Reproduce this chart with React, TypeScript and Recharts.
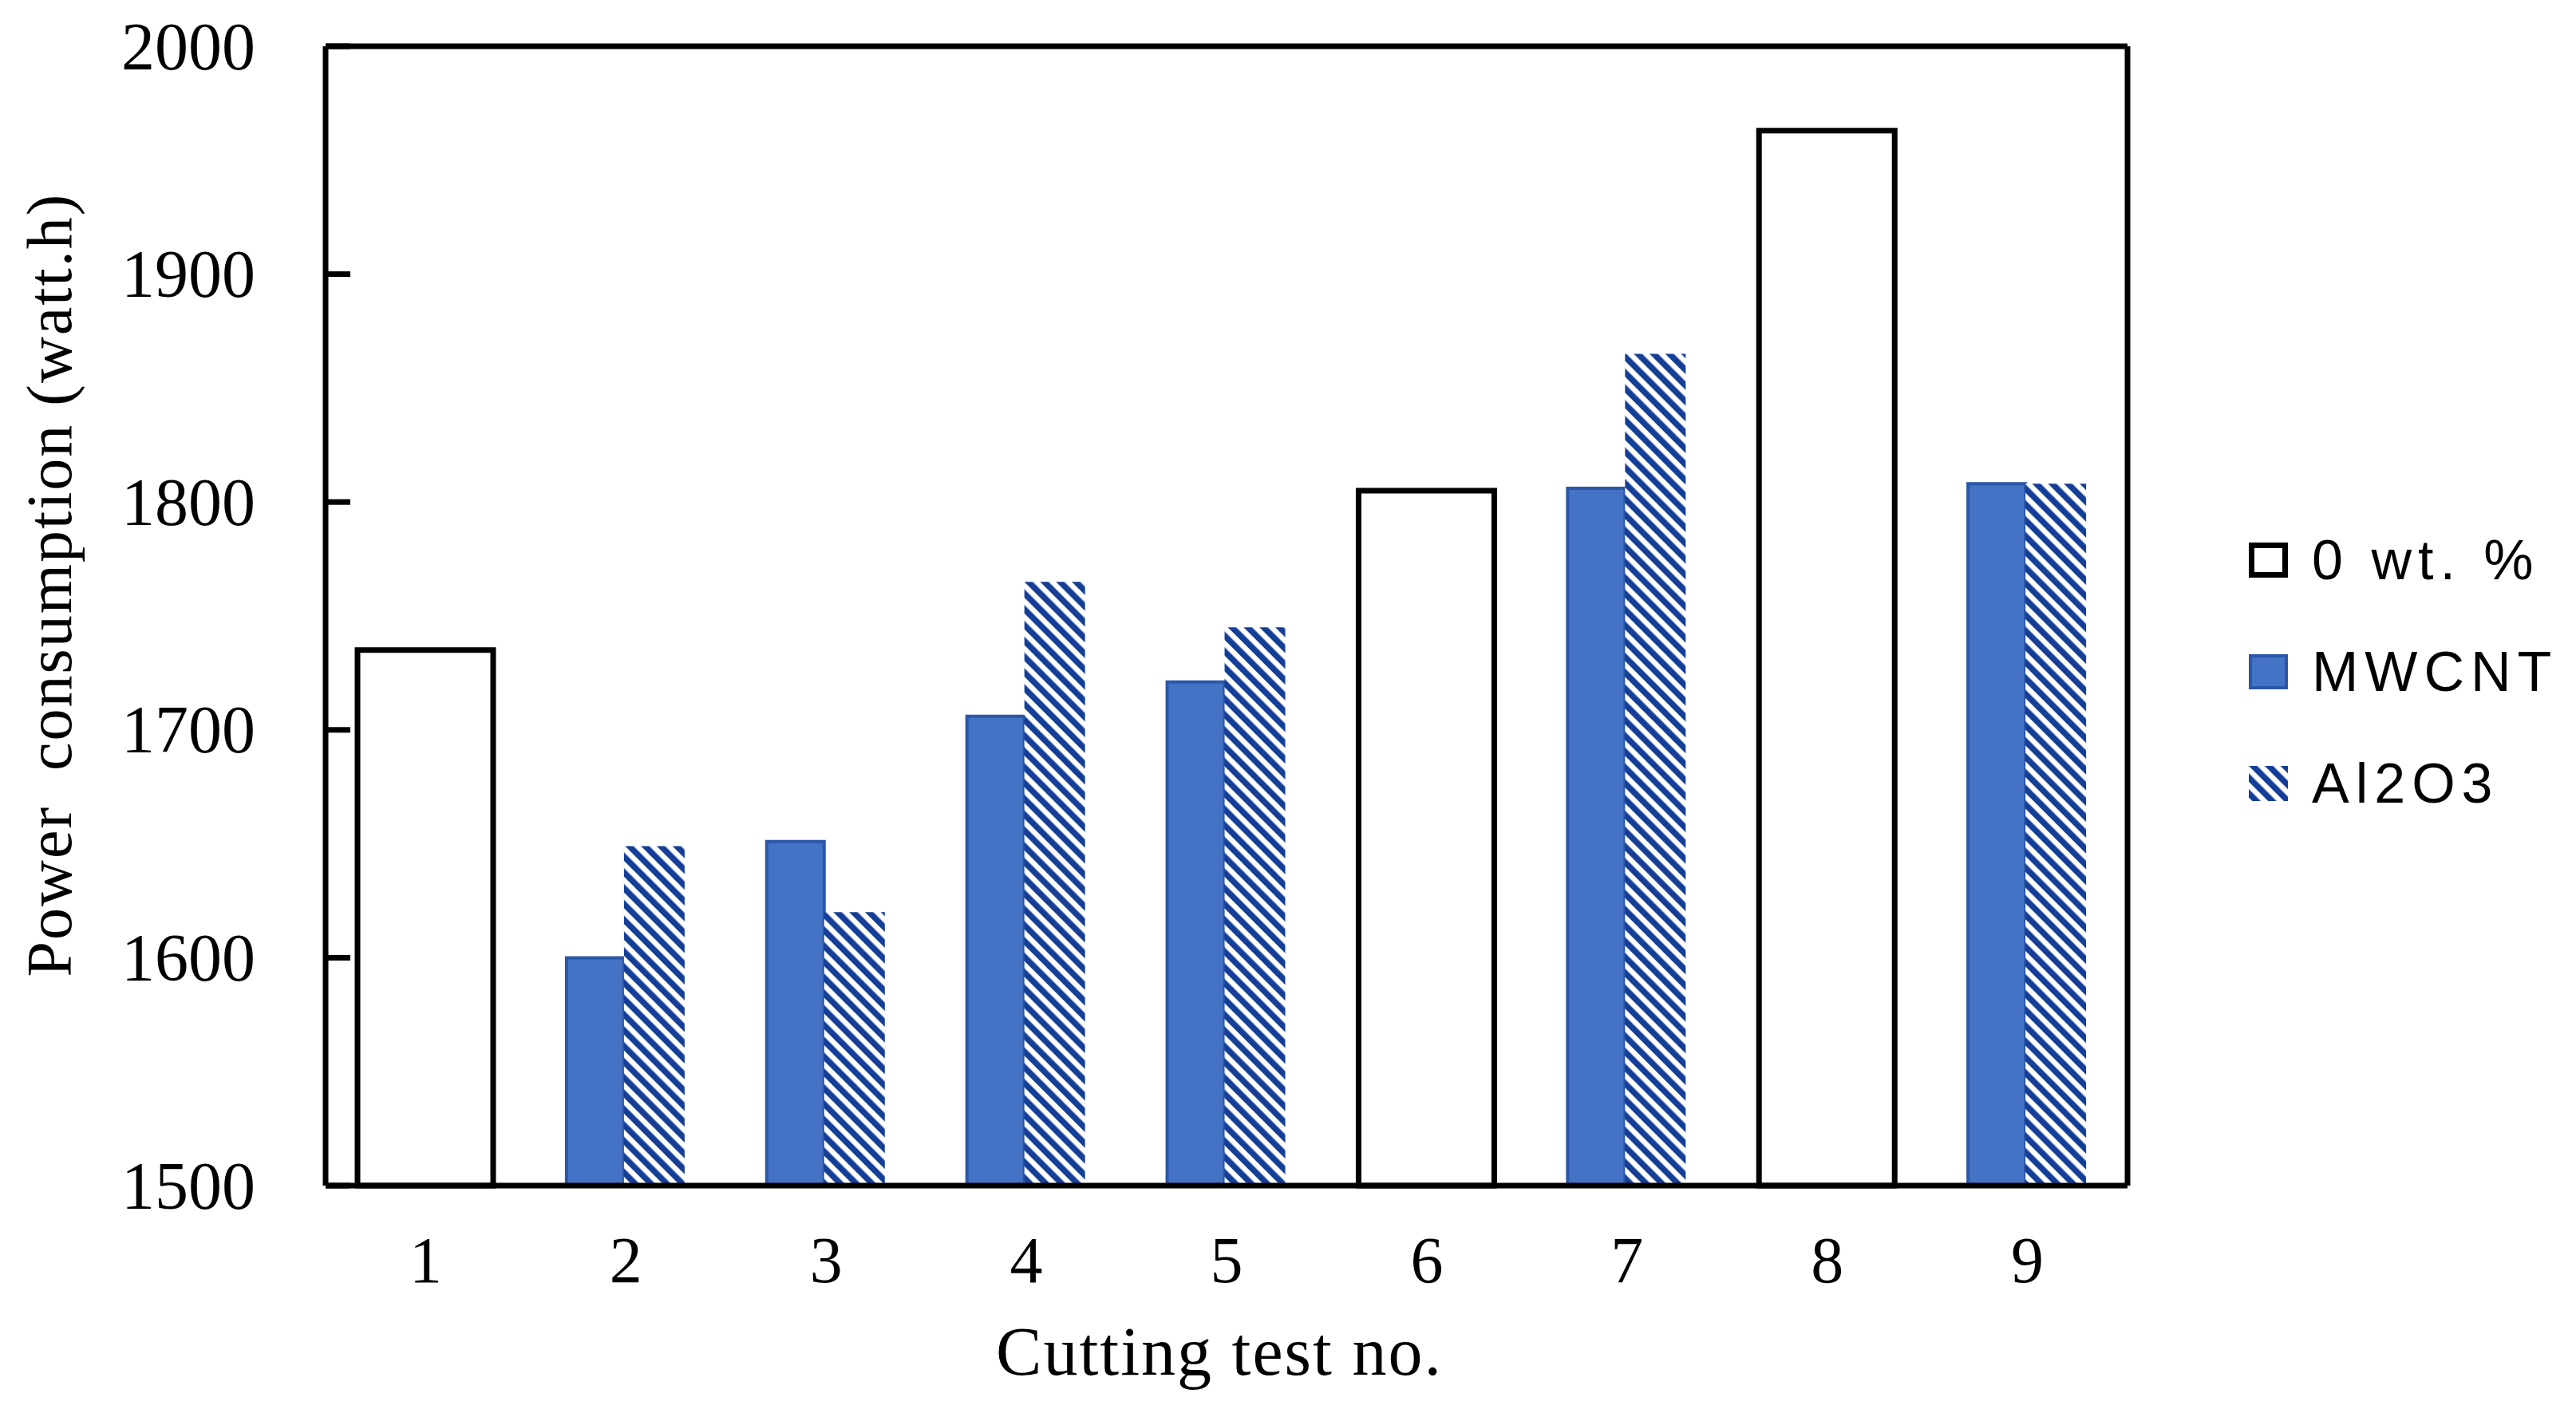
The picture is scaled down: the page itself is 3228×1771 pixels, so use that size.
import React from 'react';
import { BarChart, Bar, XAxis, YAxis, Legend, Label } from 'recharts';

const testNos = ['1', '2', '3', '4', '5', '6', '7', '8', '9'];
const plainValues = [1735, null, null, null, null, 1805, null, 1963, null];
const mwcntValues = [null, 1600, 1651, 1706, 1721, null, 1806, null, 1808];
const al2o3Values = [null, 1649, 1620, 1765, 1745, null, 1865, null, 1808];
const yTicks = [1500, 1600, 1700, 1800, 1900, 2000];
const legendOrder = ['plain', 'mwcnt', 'al2o3'];

const data = testNos.map((t, i) => ({
  test: t,
  plain: plainValues[i],
  mwcnt: mwcntValues[i],
  al2o3: al2o3Values[i],
}));

const SERIF = '"Liberation Serif", "Times New Roman", serif';
const SANS = '"Liberation Sans", Arial, sans-serif';
const BLUE = '#4472C4';
const BLUE_EDGE = '#2B57A9';
const HATCH = '#153E96';

function Swatch({ dataKey }: { dataKey: string }) {
  return (
    <svg width={49} height={44} style={{ display: 'block' }}>
      {dataKey === 'plain' && (
        <rect x={3.5} y={3.5} width={42} height={37} fill='#fff' stroke='#000' strokeWidth={7} />
      )}
      {dataKey === 'mwcnt' && (
        <rect x={2} y={2} width={45} height={40} fill={BLUE} stroke={BLUE_EDGE} strokeWidth={4} />
      )}
      {dataKey === 'al2o3' && <rect x={0} y={0} width={49} height={44} fill='url(#al2o3Hatch)' />}
    </svg>
  );
}

const renderLegend = (props: any) => {
  const items = [...(props.payload || [])].sort(
    (a: any, b: any) => legendOrder.indexOf(a.dataKey) - legendOrder.indexOf(b.dataKey),
  );
  return (
    <div style={{ fontFamily: SANS, fontSize: 70, letterSpacing: 8, color: '#000' }}>
      {items.map((entry: any) => (
        <div key={entry.dataKey} style={{ display: 'flex', alignItems: 'center', height: 140 }}>
          <Swatch dataKey={entry.dataKey} />
          <span style={{ marginLeft: 30, lineHeight: 1, whiteSpace: 'nowrap' }}>{entry.value}</span>
        </div>
      ))}
    </div>
  );
};

// y tick: label left of the axis, short tick mark pointing into the plot
const YTick = (props: any) => {
  const { x, y, payload } = props;
  const axisX = x + 88;
  return (
    <g>
      <line x1={axisX} y1={y} x2={axisX + 31} y2={y} stroke='#000' strokeWidth={7} />
      <text
        x={x}
        y={y}
        textAnchor='end'
        dominantBaseline='central'
        fontFamily={SERIF}
        fontSize={84}
        fill='#000'
      >
        {payload.value}
      </text>
    </g>
  );
};

const yTitle = (props: any) => {
  const vb = props.viewBox;
  const cx = vb.x + 62;
  const cy = vb.y + vb.height / 2 - 39;
  return (
    <text
      x={cx}
      y={cy}
      transform={`rotate(-90 ${cx} ${cy})`}
      textAnchor='middle'
      dominantBaseline='central'
      fontFamily={SERIF}
      fontSize={80}
      fill='#000'
      style={{ letterSpacing: 2 }}
    >
      {'Power\u00a0\u00a0consumption (watt.h)'}
    </text>
  );
};

const xTitle = (props: any) => {
  const vb = props.viewBox;
  return (
    <text
      x={vb.x + vb.width / 2 - 9}
      y={vb.y + 237}
      textAnchor='middle'
      fontFamily={SERIF}
      fontSize={86}
      fill='#000'
      style={{ letterSpacing: 2 }}
    >
      Cutting test no.
    </text>
  );
};

export default function App() {
  return (
    <div style={{ position: 'relative', width: 3228, height: 1771, background: '#fff' }}>
      <style>{'body{margin:0}'}</style>
      <svg width={0} height={0} style={{ position: 'absolute' }}>
        <defs>
          <pattern
            id='al2o3Hatch'
            patternUnits='userSpaceOnUse'
            width={14}
            height={14}
            patternTransform='rotate(-45)'
          >
            <rect x={0} y={0} width={14} height={14} fill='#fff' />
            <rect x={0} y={0} width={7.5} height={14} fill={HATCH} />
          </pattern>
        </defs>
      </svg>
      <BarChart
        width={3228}
        height={1771}
        data={data}
        margin={{ top: 57, right: 561, bottom: 25, left: 0 }}
        barGap={0}
      >
        <XAxis
          dataKey='test'
          height={260}
          axisLine={{ stroke: '#000', strokeWidth: 7 }}
          tickLine={false}
          tickSize={0}
          tickMargin={63}
          tick={{ fill: '#000', fontSize: 82, fontFamily: SERIF }}
        >
          <Label content={xTitle} />
        </XAxis>
        <XAxis xAxisId='b' dataKey='test' hide />
        <XAxis
          xAxisId='t'
          dataKey='test'
          orientation='top'
          height={1}
          tick={false}
          tickLine={false}
          axisLine={{ stroke: '#000', strokeWidth: 7 }}
        />
        <YAxis
          width={408}
          domain={[1500, 2000]}
          ticks={yTicks}
          interval={0}
          axisLine={{ stroke: '#000', strokeWidth: 7 }}
          tickLine={false}
          tickSize={0}
          tickMargin={88}
          tick={<YTick />}
        >
          <Label content={yTitle} />
        </YAxis>
        <YAxis
          yAxisId='r'
          orientation='right'
          width={1}
          type='number'
          domain={[0, 1]}
          tick={false}
          tickLine={false}
          axisLine={{ stroke: '#000', strokeWidth: 7 }}
        />
        <Legend
          layout='vertical'
          verticalAlign='middle'
          align='center'
          content={renderLegend}
          wrapperStyle={{ left: 2818, top: 632, width: 410 }}
        />
        <Bar
          dataKey='plain'
          name='0 wt. %'
          barSize={170}
          fill='#fff'
          stroke='#000'
          strokeWidth={7}
          isAnimationActive={false}
        />
        <Bar
          xAxisId='b'
          dataKey='mwcnt'
          name='MWCNT'
          barSize={72}
          fill={BLUE}
          stroke={BLUE_EDGE}
          strokeWidth={4}
          isAnimationActive={false}
        />
        <Bar
          xAxisId='b'
          dataKey='al2o3'
          name='Al2O3'
          barSize={76}
          fill='url(#al2o3Hatch)'
          isAnimationActive={false}
        />
      </BarChart>
    </div>
  );
}
